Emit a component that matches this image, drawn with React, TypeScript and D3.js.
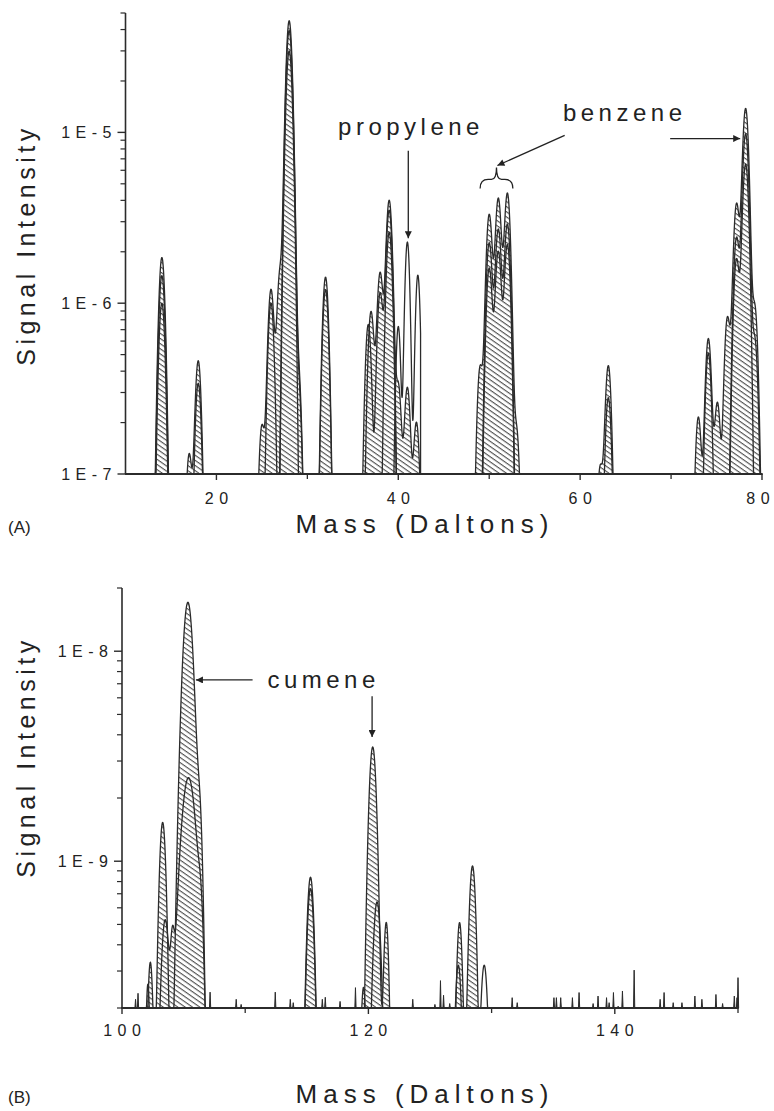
import React from "react";
import * as d3 from "d3";

const FONT = "'Liberation Sans', Arial, Helvetica, sans-serif";

// ---------------- Panel A data (mass in Daltons, signal intensity) ----------------
const massDomainA: [number, number] = [10, 80];
const intensityDomainA: [number, number] = [1e-7, 5e-5];
const massTicksA = [20, 40, 60, 80];
const massMinorTicksA = [30, 50, 70];
const peakWidthA = 0.3;

// highest trace (outer outline)
const scanA1: number[][] = [
  [14, 1.85e-6], [17, 1.3e-7], [18, 4.6e-7], [25, 1.9e-7], [26, 1.2e-6], [27, 1.5e-6],
  [28, 4.5e-5], [29, 4.0e-7], [32, 1.42e-6], [37, 8.9e-7], [38, 1.5e-6], [39, 4.0e-6],
  [40, 3.3e-7], [41, 3.2e-7], [42, 2.0e-7], [49, 4.2e-7], [50, 3.3e-6], [51, 4.1e-6],
  [52, 4.4e-6], [53, 1.8e-7], [62.2, 1.08e-7], [63.1, 4.3e-7], [73, 2.15e-7], [74.1, 6.2e-7],
  [75.1, 2.6e-7], [76.2, 8.2e-7], [77.2, 3.8e-6], [78.2, 1.38e-5], [79.2, 9.5e-7],
];
// second trace (inner outline)
const scanA2: number[][] = [
  [14, 1.45e-6], [18, 3.4e-7], [26, 1.0e-6], [28, 3.95e-5], [29, 3.4e-7], [32, 1.2e-6],
  [36.7, 7.5e-7], [38, 1.14e-6], [39, 3.5e-6], [50, 2.25e-6], [51, 2.7e-6], [52, 2.9e-6],
  [63.1, 2.8e-7], [74.1, 5.1e-7], [77.2, 2.4e-6], [78.2, 9.8e-6], [79.2, 6.1e-7],
];
// third trace
const scanA3: number[][] = [
  [14, 1.0e-6], [28, 3.0e-5], [39, 2.6e-6], [50, 1.6e-6], [51, 2.0e-6],
  [52, 2.2e-6], [77.2, 1.8e-6], [78.2, 6.5e-6],
];
// un-hatched scan around propylene
const propyleneScan: number[][] = [[40, 7.3e-7, 0.24], [41, 2.28e-6, 0.24], [42.15, 1.46e-6, 0.24]];
const propyleneScanRange: [number, number] = [39.4, 42.45];

// ---------------- Panel B data ----------------
const massDomainB: [number, number] = [100, 150];
const intensityDomainB: [number, number] = [2e-10, 2e-8];
const massTicksB = [100, 120, 140];
const massMinorTicksB = [110, 130, 150];
const peakWidthB = 0.25;

// [mass, intensity, peak width]
const scanB1: number[][] = [
  [102.3, 3.3e-10, 0.2], [103.3, 1.53e-9, 0.25], [105.35, 1.71e-8, 0.38], [106.3, 1.47e-9, 0.22],
  [115.3, 8.4e-10, 0.27], [120.35, 3.5e-9, 0.28], [121.45, 5.1e-10, 0.2],
  [127.4, 5.1e-10, 0.22], [128.45, 9.5e-10, 0.26],
];
const scanB2: number[][] = [
  [102.1, 2.6e-10, 0.15], [103.5, 5.2e-10, 0.3], [104.1, 2.7e-10, 0.15], [105.4, 2.5e-9, 0.55],
  [106.4, 3.2e-10, 0.2], [115.3, 7.4e-10, 0.27], [119.6, 2.5e-10, 0.2], [120.7, 6.4e-10, 0.3],
  [127.3, 3.2e-10, 0.25],
];
const scanB3: number[][] = [[129.4, 3.2e-10, 0.28]];

const noiseMassB = [
  101.1, 101.3, 107.15, 109.27, 109.67, 112.44, 113.66, 113.9, 116.26, 116.5, 117.7, 118.95,
  123.6, 125.4, 125.85, 126.1, 126.6, 131.67, 132.08, 135.06, 135.26, 135.61, 136.56, 137.1,
  138.24, 138.64, 139.33, 139.54, 139.89, 140.27, 140.62, 141.57, 143.68, 144.0, 144.74,
  145.45, 146.5, 147.07, 148.21, 148.75, 149.7, 149.92, 150.0,
];
const noiseIntensityB = [
  2.2e-10, 2.35e-10, 2.38e-10, 2.2e-10, 2.08e-10, 2.38e-10, 2.2e-10, 2.12e-10, 2.2e-10, 2.25e-10, 2.15e-10, 2.5e-10,
  2.2e-10, 2.08e-10, 2.7e-10, 2.3e-10, 2.1e-10, 2.24e-10, 2.12e-10, 2.24e-10, 2.24e-10, 2.24e-10, 2.24e-10, 2.37e-10,
  2.1e-10, 2.28e-10, 2.24e-10, 2.12e-10, 2.37e-10, 2.04e-10, 2.41e-10, 3.03e-10, 2.2e-10, 2.37e-10, 2.12e-10,
  2.12e-10, 2.28e-10, 2.2e-10, 2.32e-10, 2.1e-10, 2.28e-10, 2.24e-10, 2.79e-10,
];

const INK = "#2b2b2b";

type Trace = { peaks: number[][]; hatched: boolean; range?: [number, number] };

function profile(t: Trace, domain: [number, number], floor: number, sigma: number): [number, number][] {
  const [lo, hi] = t.range ?? domain;
  const ms = d3.range(lo, hi + 1e-9, 0.02);
  if (ms[ms.length - 1] < hi) ms.push(hi);
  return ms.map((m) => {
    let v = 0;
    for (const p of t.peaks) {
      const s = p[2] ?? sigma;
      const d = m - p[0];
      v += p[1] * Math.exp((-d * d) / (2 * s * s));
    }
    return [m, Math.max(v, floor)];
  });
}

function logTicks(domain: [number, number]) {
  const major: number[] = [];
  const minor: number[] = [];
  const e0 = Math.floor(Math.log10(domain[0]) - 1e-9);
  const e1 = Math.ceil(Math.log10(domain[1]) + 1e-9);
  for (let e = e0; e <= e1; e++) {
    for (let k = 1; k <= 9; k++) {
      const v = +(k * Math.pow(10, e)).toPrecision(6);
      if (v < domain[0] * 0.999 || v > domain[1] * 1.001) continue;
      (k === 1 ? major : minor).push(v);
    }
  }
  return { major, minor };
}

// characters spread apart without trailing space after the last one
function spaced(str: string, gap: number) {
  return str.split("").map((c, i) => (
    <tspan key={i} dx={i === 0 ? 0 : gap}>
      {c}
    </tspan>
  ));
}

type PanelProps = {
  xRange: [number, number];
  yRange: [number, number];
  xDomain: [number, number];
  yDomain: [number, number];
  sigma: number;
  traces: Trace[];
  spikes?: { m: number[]; v: number[] };
  xTicks: number[];
  xMinor: number[];
  tickLabelY: number;
  titleY: number;
  panelLabel: string;
  yTitleCenter: number;
  annotate: (x: d3.ScaleLinear<number, number>, y: d3.ScaleLogarithmic<number, number>) => React.ReactNode;
};

const TICK_FS = 16;
const TICK_LS = 5.5;

function Panel(p: PanelProps) {
  const x = d3.scaleLinear().domain(p.xDomain).range(p.xRange);
  const y = d3.scaleLog().domain(p.yDomain).range(p.yRange);
  const floor = p.yDomain[0];
  const area = d3
    .area<[number, number]>()
    .x((d) => x(d[0]))
    .y0(y(floor))
    .y1((d) => y(d[1]));
  const { major, minor } = logTicks(p.yDomain);
  const left = p.xRange[0];
  const bottom = p.yRange[0];
  const profiles = p.traces.map((t) => ({ t, pts: profile(t, p.xDomain, floor, p.sigma) }));
  const spikeLine = d3
    .line<[number, number]>()
    .x((d) => x(d[0]))
    .y((d) => y(d[1]));
  return (
    <g>
      {profiles
        .filter((d) => d.t.hatched)
        .map((d, i) => (
          <path key={"f" + i} d={area(d.pts) || ""} fill={`url(#hatch)`} stroke="none" />
        ))}
      {profiles.map((d, i) => (
        <path key={"o" + i} d={area(d.pts) || ""} fill="none" stroke={INK} strokeWidth={1.3} strokeLinejoin="round" />
      ))}
      {p.spikes &&
        p.spikes.m.map((m, i) => (
          <path
            key={"s" + i}
            d={spikeLine([[m - 0.05, floor], [m, p.spikes!.v[i]], [m + 0.05, floor]]) || ""}
            fill={INK}
            stroke={INK}
            strokeWidth={1}
          />
        ))}
      {/* y axis */}
      <line x1={left} x2={left} y1={p.yRange[0]} y2={p.yRange[1]} stroke={INK} strokeWidth={1.6} />
      {major.map((v) => (
        <g key={"ym" + v}>
          <line x1={left - 8} x2={left} y1={y(v)} y2={y(v)} stroke={INK} strokeWidth={1.4} />
          <text
            x={left - 14}
            y={y(v)}
            dy="0.36em"
            textAnchor="end"
            fontFamily={FONT}
            fontSize={TICK_FS}
            fill="#222"
          >
            {spaced(`1E-${Math.abs(Math.round(Math.log10(v)))}`, TICK_LS)}
          </text>
        </g>
      ))}
      {minor.map((v) => (
        <line key={"yn" + v} x1={left - 5} x2={left} y1={y(v)} y2={y(v)} stroke={INK} strokeWidth={1.2} />
      ))}
      {/* x axis */}
      <line x1={p.xRange[0]} x2={p.xRange[1]} y1={bottom} y2={bottom} stroke={INK} strokeWidth={1.6} />
      {p.xTicks.map((t) => (
        <g key={"xm" + t}>
          <line x1={x(t)} x2={x(t)} y1={bottom} y2={bottom + 6} stroke={INK} strokeWidth={1.4} />
          <text
            x={Math.min(x(t), 758)}
            y={p.tickLabelY}
            textAnchor="middle"
            fontFamily={FONT}
            fontSize={TICK_FS}
            fill="#222"
          >
            {spaced(String(t), TICK_LS)}
          </text>
        </g>
      ))}
      {p.xMinor.map((t) => (
        <line key={"xn" + t} x1={x(t)} x2={x(t)} y1={bottom} y2={bottom + 5} stroke={INK} strokeWidth={1.3} />
      ))}
      {/* titles */}
      <text
        x={425}
        y={p.titleY}
        textAnchor="middle"
        fontFamily={FONT}
        fontSize={26}
        letterSpacing={6}
        fill="#222"
      >
        Mass (Daltons)
      </text>
      <text
        transform={`translate(35,${p.yTitleCenter}) rotate(-90)`}
        textAnchor="middle"
        fontFamily={FONT}
        fontSize={25}
        letterSpacing={4.5}
        fill="#222"
      >
        Signal Intensity
      </text>
      <text x={8} y={p.titleY} fontFamily={FONT} fontSize={17} fill="#222">
        {p.panelLabel}
      </text>
      {p.annotate(x, y)}
    </g>
  );
}

const labelStyle = { fontFamily: FONT, fontSize: 24, letterSpacing: 4.5, fill: "#222" } as const;

export default function App() {
  return (
    <svg width={774} height={1111} style={{ display: "block", position: "absolute", left: 0, top: 0, background: "#fff" }}>
      <defs>
        <pattern id="hatch" patternUnits="userSpaceOnUse" width={4.2} height={4.2} patternTransform="rotate(35)">
          <rect width={4.2} height={4.2} fill="#fff" />
          <line x1={0} y1={0.6} x2={4.2} y2={0.6} stroke="#3a3a3a" strokeWidth={1} />
        </pattern>
        <marker id="arrow" viewBox="0 0 10 10" refX={10} refY={5} markerWidth={9} markerHeight={7} markerUnits="userSpaceOnUse" orient="auto">
          <path d="M0,0 L10,5 L0,10 z" fill="#222" />
        </marker>
      </defs>
      <rect width={774} height={1111} fill="#fff" />
      <Panel
        xRange={[125.5, 762]}
        yRange={[474, 13]}
        xDomain={massDomainA}
        yDomain={intensityDomainA}
        sigma={peakWidthA}
        traces={[
          { peaks: scanA1, hatched: true },
          { peaks: scanA2, hatched: true },
          { peaks: scanA3, hatched: true },
          { peaks: propyleneScan, hatched: false, range: propyleneScanRange },
        ]}
        xTicks={massTicksA}
        xMinor={massMinorTicksA}
        tickLabelY={504}
        titleY={533}
        panelLabel="(A)"
        yTitleCenter={245}
        annotate={(x, y) => {
          const bx = x(50.8);
          const by = y(4.7e-6);
          const hw = x(52.6) - x(50.8);
          return (
            <g>
              <text x={x(41.4)} y={y(9.7e-6)} textAnchor="middle" {...labelStyle}>propylene</text>
              <line x1={x(41.1)} x2={x(41.1)} y1={y(7.8e-6)} y2={y(2.4e-6)} stroke="#222" strokeWidth={1.3} markerEnd="url(#arrow)" />
              <text x={x(64.9)} y={y(1.17e-5)} textAnchor="middle" {...labelStyle}>benzene</text>
              <line x1={x(58.3)} y1={y(9.6e-6)} x2={x(50.9)} y2={y(6.4e-6)} stroke="#222" strokeWidth={1.3} markerEnd="url(#arrow)" />
              <line x1={x(69.9)} y1={y(9.2e-6)} x2={x(77.6)} y2={y(9.2e-6)} stroke="#222" strokeWidth={1.3} markerEnd="url(#arrow)" />
              <path
                d={`M${bx - hw},${by} Q${bx - hw},${by - 9} ${bx - hw + 8},${by - 9} L${bx - 5},${by - 9} Q${bx},${by - 9} ${bx},${by - 21} Q${bx},${by - 9} ${bx + 5},${by - 9} L${bx + hw - 8},${by - 9} Q${bx + hw},${by - 9} ${bx + hw},${by}`}
                fill="none"
                stroke="#222"
                strokeWidth={1.3}
              />
            </g>
          );
        }}
      />
      <Panel
        xRange={[122, 738]}
        yRange={[1008, 588]}
        xDomain={massDomainB}
        yDomain={intensityDomainB}
        sigma={peakWidthB}
        traces={[
          { peaks: scanB1, hatched: true },
          { peaks: scanB2, hatched: true },
          { peaks: scanB3, hatched: false },
        ]}
        spikes={{ m: noiseMassB, v: noiseIntensityB }}
        xTicks={massTicksB}
        xMinor={massMinorTicksB}
        tickLabelY={1036}
        titleY={1103}
        panelLabel="(B)"
        yTitleCenter={757}
        annotate={(x, y) => (
          <g>
            <text x={x(111.8)} y={y(7.3e-9)} dy="0.35em" {...labelStyle}>cumene</text>
            <line x1={x(110.6)} x2={x(106.0)} y1={y(7.3e-9)} y2={y(7.3e-9)} stroke="#222" strokeWidth={1.3} markerEnd="url(#arrow)" />
            <line x1={x(120.3)} x2={x(120.3)} y1={y(6.1e-9)} y2={y(3.9e-9)} stroke="#222" strokeWidth={1.3} markerEnd="url(#arrow)" />
          </g>
        )}
      />
    </svg>
  );
}
